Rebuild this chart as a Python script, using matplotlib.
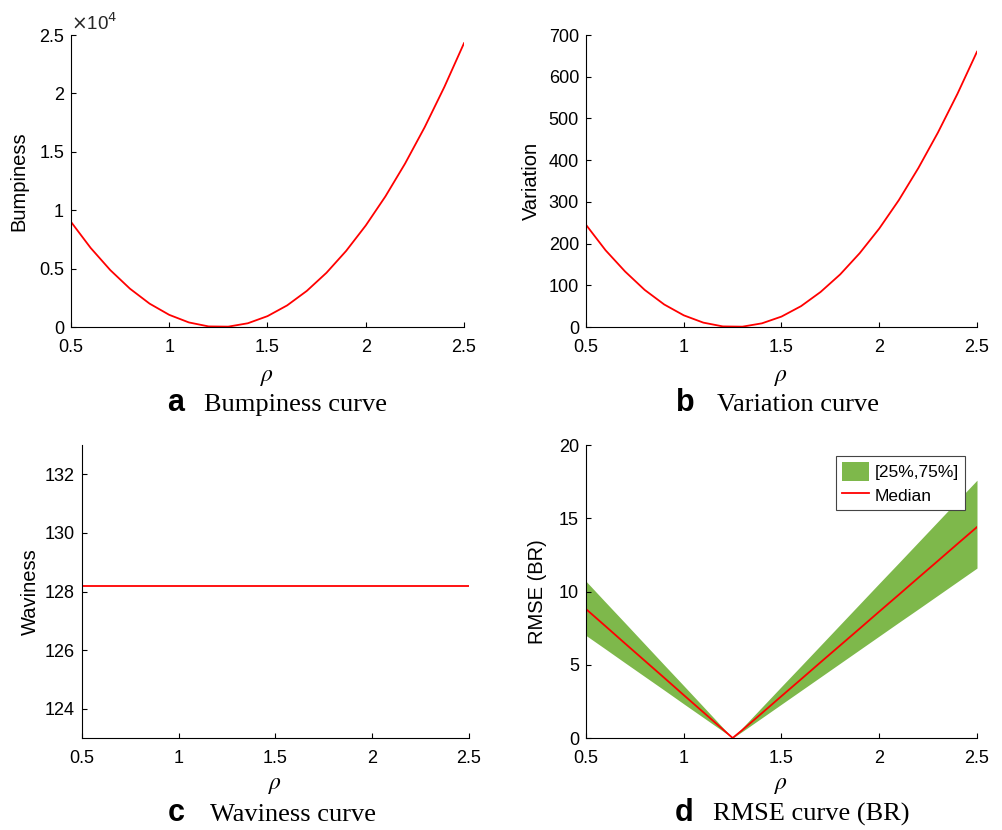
import numpy as np
import matplotlib
matplotlib.use("Agg")
import matplotlib.pyplot as plt
from matplotlib.ticker import FuncFormatter
from matplotlib.patches import Patch
from matplotlib.lines import Line2D

# ---------------- data ----------------
rho = [0.5, 0.6, 0.7, 0.8, 0.9, 1.0, 1.1, 1.2, 1.3, 1.4, 1.5,
       1.6, 1.7, 1.8, 1.9, 2.0, 2.1, 2.2, 2.3, 2.4, 2.5]
bumpiness = [9000, 6770, 4870, 3280, 2000, 1040, 390, 50, 30, 320, 930,
             1850, 3090, 4640, 6510, 8690, 11180, 13990, 17110, 20550, 24300]
variation = [245, 184, 133, 89, 54, 28, 10.5, 1.4, 0.8, 8.8, 25,
             50, 84, 126, 177, 236, 304, 381, 466, 559, 660]
waviness = [128.2] * len(rho)

rho_d = [0.5, 0.6, 0.7, 0.8, 0.9, 1.0, 1.1, 1.2, 1.25, 1.3, 1.4, 1.5,
         1.6, 1.7, 1.8, 1.9, 2.0, 2.1, 2.2, 2.3, 2.4, 2.5]
rmse_median = [8.8, 7.63, 6.45, 5.28, 4.11, 2.93, 1.76, 0.59, 0.0, 0.55, 1.70, 2.86,
               4.01, 5.17, 6.32, 7.47, 8.63, 9.78, 10.94, 12.09, 13.25, 14.40]
rmse_q75 = [10.7, 9.27, 7.85, 6.42, 4.99, 3.57, 2.14, 0.71, 0.0, 0.70, 2.11, 3.52,
            4.92, 6.33, 7.74, 9.15, 10.56, 11.96, 13.37, 14.78, 16.19, 17.6]
rmse_q25 = [7.0, 6.07, 5.13, 4.20, 3.27, 2.33, 1.40, 0.47, 0.0, 0.45, 1.38, 2.31,
            3.24, 4.17, 5.10, 6.03, 6.96, 7.89, 8.81, 9.74, 10.67, 11.6]

xticks = [0.5, 1, 1.5, 2, 2.5]
captions = [("a", "Bumpiness curve"), ("b", "Variation curve"),
            ("c", "Waviness curve"), ("d", "RMSE curve (BR)")]

# ---------------- style ----------------
plt.rcParams['font.family'] = ['Liberation Sans', 'DejaVu Sans']
plt.rcParams['font.size'] = 13
plt.rcParams['mathtext.fontset'] = 'stix'

RED = '#FF0000'
GREEN = '#7EB84B'
W, H = 1003, 830
fig = plt.figure(figsize=(W / 100, H / 100), dpi=100)


def axes_px(l, r, t, b):
    return fig.add_axes([l / W, 1 - b / H, (r - l) / W, (b - t) / H])


def style(ax, rho_y):
    for s in ['top', 'right']:
        ax.spines[s].set_visible(False)
    for s in ['left', 'bottom']:
        ax.spines[s].set_linewidth(0.8)
    ax.tick_params(direction='in', length=3.5, width=0.8, labelsize=13)
    ax.tick_params(axis='x', pad=8.5)
    ax.tick_params(axis='y', pad=5)
    ax.set_xlim(0.5, 2.5)
    ax.set_xticks(xticks)
    ax.xaxis.set_major_formatter(FuncFormatter(lambda v, p: f"{v:g}"))
    ax.set_xlabel(r'$\rho$', fontsize=17)
    ax.xaxis.set_label_coords(0.5, rho_y)
    ax.xaxis.label.set_va('center')


ax_a = axes_px(71, 464, 35, 327)
ax_b = axes_px(586, 977, 35, 327)
ax_c = axes_px(82, 469, 445, 738)
ax_d = axes_px(586, 977, 445, 738)

# a
ax_a.plot(rho, bumpiness, color=RED, lw=1.3)
style(ax_a, -0.172)
ax_a.set_ylim(0, 25000)
ax_a.set_yticks([0, 5000, 10000, 15000, 20000, 25000])
ax_a.yaxis.set_major_formatter(FuncFormatter(lambda v, p: f"{v/1e4:g}"))
ax_a.text(0.0, 1.005, r'$\times$10$^4$', transform=ax_a.transAxes, ha='left', va='bottom',
          fontsize=13.5, color='#262626', math_fontfamily='dejavusans')
ax_a.set_ylabel('Bumpiness', fontsize=14.5)
ax_a.yaxis.set_label_coords(-0.108, 0.5)

# b
ax_b.plot(rho, variation, color=RED, lw=1.3)
style(ax_b, -0.172)
ax_b.set_ylim(0, 700)
ax_b.set_yticks(range(0, 701, 100))
ax_b.set_ylabel('Variation', fontsize=14.5)
ax_b.yaxis.set_label_coords(-0.115, 0.5)

# c
ax_c.plot(rho, waviness, color=RED, lw=1.3)
style(ax_c, -0.16)
ax_c.set_ylim(123, 133)
ax_c.set_yticks([124, 126, 128, 130, 132])
ax_c.set_ylabel('Waviness', fontsize=14.5)
ax_c.yaxis.set_label_coords(-0.11, 0.5)

# d
ax_d.fill_between(rho_d, rmse_q25, rmse_q75, color=GREEN, lw=0, label='[25%,75%]')
ax_d.plot(rho_d, rmse_median, color=RED, lw=1.3, label='Median')
style(ax_d, -0.16)
ax_d.set_ylim(0, 20)
ax_d.set_yticks([0, 5, 10, 15, 20])
ax_d.set_ylabel('RMSE (BR)', fontsize=14.5)
ax_d.yaxis.set_label_coords(-0.1, 0.5)
handles = [Patch(facecolor=GREEN, edgecolor='none'), Line2D([], [], color=RED, lw=1.3)]
leg = ax_d.legend(handles, ['[25%,75%]', 'Median'], loc='upper right',
                  bbox_to_anchor=((965 - 586) / 391, (738 - 456) / 293),
                  fontsize=12.5, fancybox=False, framealpha=1, edgecolor='#444444',
                  borderpad=0.35, handlelength=1.6, handleheight=1.3, labelspacing=0.25,
                  handletextpad=0.3, borderaxespad=0)
leg.get_frame().set_linewidth(0.8)

# captions
cap_pos = [(167, 204, 411), (676, 717, 411), (168, 210, 821), (675, 713, 821)]
for (letter, text), (xl, xt, yb) in zip(captions, cap_pos):
    fig.text(xl / W, 1 - yb / H, letter, fontsize=22, fontweight='bold',
             family='Liberation Sans', ha='left', va='baseline')
    fig.text(xt / W, 1 - yb / H, text, fontsize=19, family='Liberation Serif',
             ha='left', va='baseline')

fig.savefig('out.png', dpi=100)
